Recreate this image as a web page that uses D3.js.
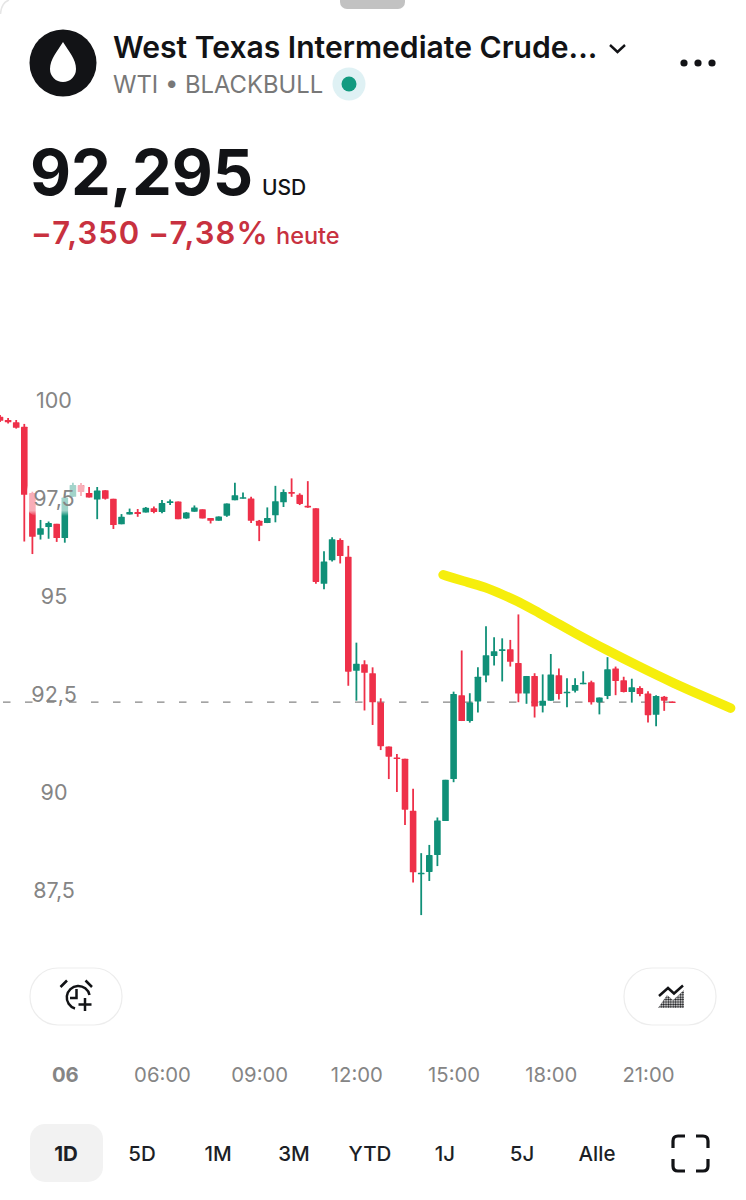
<!DOCTYPE html>
<html><head><meta charset="utf-8">
<style>html,body{margin:0;padding:0;background:#fff}svg{display:block}text{font-family:Inter,"Noto Sans",sans-serif}</style>
<script src="https://cdn.jsdelivr.net/npm/d3@7/dist/d3.min.js"></script>
</head><body><svg id="c" width="746" height="1200"></svg>
<script>
const title="West Texas Intermediate Crude...";
const subtitle="WTI • BLACKBULL";
const priceText="92,295", unitText="USD", changeText="−7,350 −7,38%", changeSuffix="heute";
const lastPrice=92.295;
const opens=[99.57,99.49,99.43,99.32,97.63,96.56,96.76,96.84,96.48,97.53,97.83,97.63,97.46,97.70,97.48,96.83,97.08,97.14,97.13,97.24,97.14,97.37,97.41,96.98,97.15,97.21,96.99,96.92,97.05,97.44,97.49,97.49,96.92,96.86,97.06,97.39,97.65,97.58,97.30,97.24,95.31,95.91,96.43,96.00,93.09,93.26,93.03,92.28,91.16,90.88,90.85,89.52,87.91,87.96,88.39,89.26,90.33,92.47,91.81,92.31,92.97,93.47,93.60,93.64,93.29,92.51,92.96,92.20,92.33,92.98,92.54,92.58,92.75,92.80,92.29,92.45,93.15,92.85,92.55,92.65,92.51,91.97,92.43,92.31];
const highs=[99.62,99.54,99.49,99.39,97.66,96.94,96.90,96.84,97.61,97.89,97.88,97.78,97.78,97.70,97.48,97.09,97.23,97.22,97.27,97.28,97.45,97.46,97.41,97.14,97.31,97.21,96.99,97.03,97.36,97.89,97.64,97.53,96.94,97.26,97.81,97.72,98.00,97.62,97.93,97.24,96.14,96.50,96.47,96.28,93.81,93.36,93.18,92.39,91.16,90.97,90.85,90.08,88.44,88.65,89.35,90.31,92.56,93.61,92.52,93.18,94.23,93.95,93.92,93.88,94.53,92.96,93.03,93.00,93.52,93.15,92.90,92.90,93.08,92.84,92.41,93.44,93.20,92.94,92.89,92.70,92.57,92.47,92.45,92.31];
const lows=[99.44,99.40,99.27,96.39,96.07,96.44,96.46,96.38,96.36,97.53,97.55,97.51,96.96,97.46,96.71,96.83,97.08,97.02,97.13,97.11,97.11,97.32,96.96,96.97,97.15,96.98,96.85,96.92,97.02,97.44,97.49,96.86,96.40,96.86,96.88,97.27,97.53,97.32,97.25,95.31,95.17,95.88,95.83,92.71,92.33,92.08,91.71,91.07,90.33,90.00,89.16,87.69,86.86,87.73,88.11,89.26,90.25,91.81,91.77,92.03,92.80,93.23,92.82,93.20,92.29,92.25,91.90,92.03,92.33,92.36,92.16,92.54,92.75,92.23,91.98,92.37,92.47,92.54,92.28,92.44,91.77,91.68,92.07,92.29];
const closes=[99.47,99.43,99.29,97.58,96.51,96.73,96.86,96.48,97.51,97.83,97.65,97.51,97.69,97.48,96.81,97.02,97.14,97.09,97.25,97.14,97.37,97.42,96.96,97.13,97.26,96.98,96.92,97.03,97.36,97.57,97.52,96.92,96.79,96.99,97.42,97.65,97.61,97.35,97.26,95.36,95.88,96.45,96.02,93.07,93.27,93.04,92.29,91.17,90.90,90.85,89.55,87.95,87.94,88.39,89.27,90.31,92.50,91.81,92.28,92.94,93.49,93.59,93.64,93.32,92.51,92.96,92.18,92.33,93.00,92.50,92.56,92.73,92.79,92.29,92.41,93.13,92.83,92.55,92.67,92.50,91.96,92.45,92.33,92.29];
const trendIdx=[54.7,57.2,59.9,62.1,64.6,66.6,68.8,70.9,74.9,79.0,83.1,87.3,90.2];
const trendPrice=[95.54,95.38,95.23,95.03,94.80,94.56,94.31,94.06,93.62,93.19,92.78,92.40,92.14];
const yTicks=[100,97.5,95,92.5,90,87.5];
const xTickIdx=[8,20,32,44,56,68,80];
const xTickLabels=["06","06:00","09:00","12:00","15:00","18:00","21:00"];
const ranges=["1D","5D","1M","3M","YTD","1J","5J","Alle"];
const rangeCenters=[66,142,218,294,370,445,522,597];

const UP="#109078",DOWN="#ee3049",GREY="#858585",INK="#121316";
const svg=d3.select("#c");
const x=d3.scaleLinear().domain([0,83]).range([0,672.3]);
const y=d3.scaleLinear().domain([100,87.5]).range([400,890]);
const defs=svg.append("defs");

// sheet handle and corner
svg.append("rect").attr("x",340).attr("y",-6).attr("width",65).attr("height",15).attr("rx",7).attr("fill","#c2c2c2");
svg.append("path").attr("d","M0.5 14 Q1 3 9 0").attr("fill","none").attr("stroke","#e6e6e6").attr("stroke-width",1.5);

// header
svg.append("circle").attr("cx",63).attr("cy",63).attr("r",33.5).attr("fill",INK);
svg.append("path").attr("d","M63 42 C57 52 50 59 50 69 A13 13 0 0 0 76 69 C76 59 69 52 63 42Z").attr("fill","#fff");
svg.append("text").attr("x",113).attr("y",58).attr("font-size",30.1).attr("font-weight",600).attr("fill",INK).text(title);
svg.append("path").attr("d","M610 45 L617.5 52 L625 45").attr("fill","none").attr("stroke",INK).attr("stroke-width",2.4);
[684,698,712].forEach(cx=>svg.append("circle").attr("cx",cx).attr("cy",63).attr("r",3.6).attr("fill",INK));
svg.append("text").attr("x",113).attr("y",93).attr("font-size",23.8).attr("fill","#787878").text(subtitle);
svg.append("circle").attr("cx",349).attr("cy",84).attr("r",16.5).attr("fill","#dff1f4");
svg.append("circle").attr("cx",349).attr("cy",84).attr("r",7.5).attr("fill","#129a80");
svg.append("text").attr("x",30).attr("y",195).attr("font-size",63.2).attr("font-weight",700).attr("fill",INK).text(priceText);
svg.append("text").attr("x",262).attr("y",195).attr("font-size",21).attr("font-weight",500).attr("fill",INK).text(unitText);
svg.append("text").attr("x",31).attr("y",244).attr("font-size",31).attr("font-weight",600).attr("letter-spacing",1.1).attr("word-spacing",-1).attr("fill","#c8313f").text(changeText);
svg.append("text").attr("x",276).attr("y",244).attr("font-size",23.5).attr("font-weight",500).attr("fill","#c8313f").text(changeSuffix);

// last price line
svg.append("line").attr("x1",x(0)).attr("x2",x(83)).attr("y1",y(lastPrice)).attr("y2",y(lastPrice))
  .attr("stroke",GREY).attr("stroke-width",1.2).attr("stroke-dasharray","7.5 14.5").attr("stroke-dashoffset",-3);

// candles
const candles=d3.range(opens.length).map(i=>({i,o:opens[i],h:highs[i],l:lows[i],c:closes[i]}));
const g=svg.append("g");
const col=d=>d.c<d.o?DOWN:UP;
g.selectAll("line.w").data(candles).join("line").attr("class","w")
  .attr("x1",d=>x(d.i)).attr("x2",d=>x(d.i)).attr("y1",d=>y(d.h)).attr("y2",d=>y(d.l))
  .attr("stroke",col).attr("stroke-width",1.8);
g.selectAll("rect.b").data(candles).join("rect").attr("class","b")
  .attr("x",d=>x(d.i)-3.3).attr("width",6.6)
  .attr("y",d=>y(Math.max(d.o,d.c))).attr("height",d=>Math.max(1.6,y(Math.min(d.o,d.c))-y(Math.max(d.o,d.c))))
  .attr("rx",.6).attr("fill",col);

// label fade over candles
const fg=defs.append("linearGradient").attr("id","fade").attr("x1",0).attr("x2",0).attr("y1",0).attr("y2",1);
fg.append("stop").attr("offset",0).attr("stop-color","#fff").attr("stop-opacity",.62);
fg.append("stop").attr("offset",.85).attr("stop-color","#fff").attr("stop-opacity",.6);
fg.append("stop").attr("offset",1).attr("stop-color","#fff").attr("stop-opacity",0);
svg.append("rect").attr("x",27).attr("y",480).attr("width",58).attr("height",36).attr("rx",10).attr("fill","url(#fade)");

// y axis
const ya=d3.axisRight(y).tickValues(yTicks).tickSize(0).tickPadding(0).tickFormat(v=>String(v).replace(".",","));
const yg=svg.append("g").attr("transform","translate(54,0.5)").call(ya);
yg.select(".domain").remove();
yg.selectAll("text").attr("text-anchor","middle").attr("font-size",21.5).attr("fill",GREY).style("font-family","Inter,sans-serif");

// x axis
const xa=d3.axisBottom(x).tickValues(xTickIdx).tickSize(0).tickPadding(0).tickFormat((v,i)=>xTickLabels[i]);
const xg=svg.append("g").attr("transform","translate(0,1068)").call(xa);
xg.select(".domain").remove();
xg.selectAll("text").attr("dy","0.71em").attr("font-size",20.3).attr("fill",GREY).style("font-family","Inter,sans-serif")
  .attr("font-weight",(v,i)=>i===0?700:400);

// trend annotation
svg.append("path").datum(trendIdx.map((t,i)=>[t,trendPrice[i]]))
  .attr("d",d3.line().x(d=>x(d[0])).y(d=>y(d[1])).curve(d3.curveBasis))
  .attr("fill","none").attr("stroke","#f6ee0c").attr("stroke-width",9.5).attr("stroke-linecap","round").attr("stroke-linejoin","round");

// buttons
[[30],[624]].forEach(([bx])=>svg.append("rect").attr("x",bx).attr("y",968).attr("width",92).attr("height",57).attr("rx",28)
  .attr("fill","#fff").attr("stroke","#ededed").attr("stroke-width",1.2));
const ic=svg.append("g").attr("fill","none").attr("stroke",INK).attr("stroke-width",2.5);
ic.append("path").attr("d","M75 1008.5 A11.5 11.5 0 1 1 89.5 995");
ic.append("path").attr("d","M76.5 989 V998 H70");
ic.append("path").attr("d","M60.5 987 L67 980.5 M85.5 980.5 L92 987");
ic.append("path").attr("d","M85 998 V1011 M78.5 1004.5 H91.5");
const pat=defs.append("pattern").attr("id","dots").attr("width",2.4).attr("height",2.4).attr("patternUnits","userSpaceOnUse");
pat.append("rect").attr("width",2.4).attr("height",2.4).attr("fill","#fff");
pat.append("circle").attr("cx",1.2).attr("cy",1.2).attr("r",1).attr("fill",INK);
svg.append("path").attr("d","M658 1008 L667 995 L673 1000 L684 990 V1008 Z").attr("fill","url(#dots)");
svg.append("path").attr("d","M659 996 L668 988 L674 993.5 L683 985.5").attr("fill","none").attr("stroke",INK).attr("stroke-width",2.5);

// range selector
svg.append("rect").attr("x",30).attr("y",1124).attr("width",73).attr("height",58).attr("rx",15).attr("fill","#f2f2f2");
svg.selectAll("text.r").data(ranges).join("text").attr("class","r")
  .attr("x",(d,i)=>rangeCenters[i]).attr("y",1160.5).attr("text-anchor","middle").attr("font-size",20.5)
  .attr("font-weight",(d,i)=>i===0?700:500).attr("fill","#1c1f26").text(d=>d);
svg.append("path").attr("d","M673 1148 V1141 Q673 1136 678 1136 H685 M696 1136 H703 Q708 1136 708 1141 V1148 M708 1159 V1166 Q708 1171 703 1171 H696 M685 1171 H678 Q673 1171 673 1166 V1159")
  .attr("fill","none").attr("stroke",INK).attr("stroke-width",3.2);
</script></body></html>
